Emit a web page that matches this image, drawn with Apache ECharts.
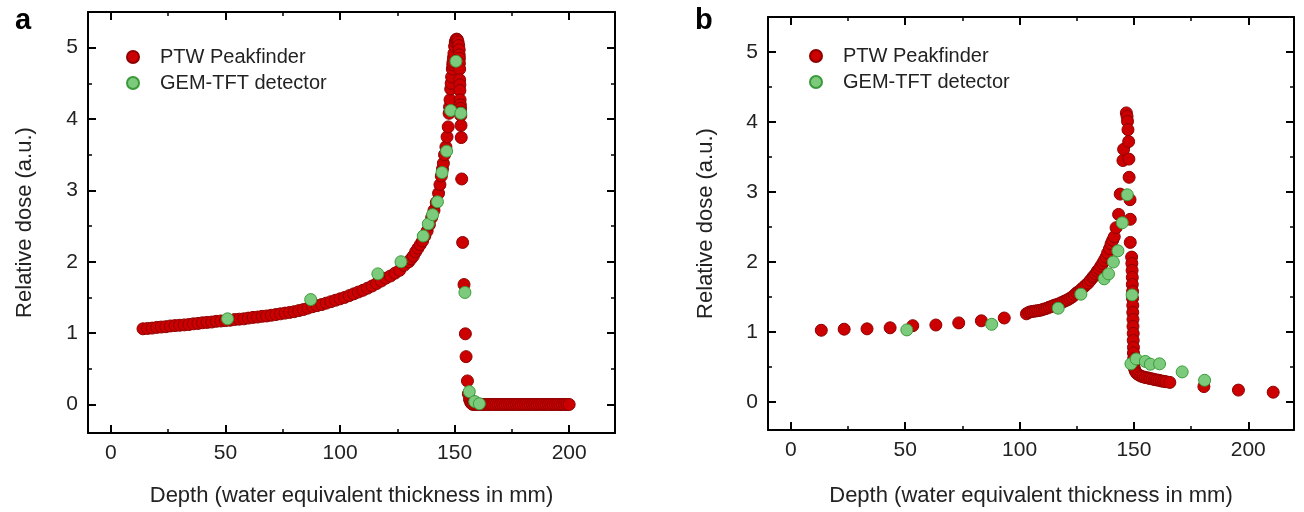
<!DOCTYPE html>
<html>
<head>
<meta charset="utf-8">
<title>Depth dose curves</title>
<script src="https://cdn.jsdelivr.net/npm/echarts@6/dist/echarts.min.js"></script>
<style>
  html, body { margin: 0; padding: 0; background: #fff; }
  #chart { width: 1304px; height: 512px; }
</style>
</head>
<body>
<div id="chart"></div>
<script>
// tick positions
const depthTicks = [0, 50, 100, 150, 200]
const depthMinor = [25, 75, 125, 175]
const doseTicks = [0, 1, 2, 3, 4, 5]
const doseMinor = [0.5, 1.5, 2.5, 3.5, 4.5]

// panel a: PTW Peakfinder [depth mm, relative dose]
const ptwA = [
  [14, 1.06], [16, 1.065], [18, 1.07], [20, 1.08], [22, 1.085], [24, 1.09], [26, 1.10], [28, 1.105],
  [30, 1.11], [32, 1.115], [34, 1.12], [36, 1.13], [38, 1.135], [40, 1.145], [42, 1.15], [44, 1.155],
  [46, 1.165], [48, 1.17], [50, 1.175], [52, 1.18], [54, 1.19], [56, 1.195], [58, 1.20], [60, 1.21],
  [62, 1.22], [64, 1.225], [66, 1.235], [68, 1.24], [70, 1.25], [72, 1.26], [74, 1.27], [76, 1.28],
  [78, 1.29], [80, 1.30], [82, 1.315], [84, 1.33], [86, 1.35], [88, 1.37], [90, 1.385], [92, 1.40],
  [94, 1.42], [96, 1.44], [98, 1.46], [100, 1.48], [102, 1.50], [104, 1.525], [106, 1.55], [108, 1.575],
  [110, 1.60], [112, 1.63], [114, 1.66], [116, 1.695], [118, 1.73], [120, 1.77], [122, 1.80], [124, 1.84],
  [126, 1.88], [128, 1.95], [130, 2.00], [131, 2.04], [132, 2.08], [133, 2.14], [134, 2.19], [135, 2.24],
  [136, 2.29], [137, 2.36], [138, 2.43], [139, 2.52], [140, 2.62], [141, 2.72], [142, 2.83], [143, 2.96],
  [143.6, 3.08], [144.2, 3.20], [144.7, 3.30], [145.1, 3.38], [145.6, 3.50], [146.2, 3.61], [146.7, 3.75],
  [147.2, 3.89], [147.6, 4.08], [147.8, 4.17], [148, 4.27], [148.3, 4.42], [148.5, 4.50], [148.7, 4.59],
  [149, 4.70], [149.2, 4.76], [149.3, 4.80], [149.5, 4.86], [149.7, 4.92], [150, 5.02], [150.3, 5.08],
  [150.6, 5.11], [150.9, 5.12], [151.2, 5.11], [151.5, 5.08], [151.8, 5.03], [152, 4.97], [152.0, 4.90],
  [152.1, 4.85], [152.1, 4.78], [152.2, 4.70], [152.2, 4.55], [152.3, 4.48], [152.3, 4.40], [152.4, 4.27],
  [152.5, 4.20], [152.6, 4.15], [152.6, 4.10], [152.7, 4.05], [152.8, 3.91], [152.9, 3.74], [153.1, 3.16],
  [153.5, 2.27], [154.1, 1.68], [154.7, 0.99], [155.0, 0.67], [155.6, 0.33], [156.0, 0.15], [156.5, 0.07],
  [157, 0.03], [157.5, 0.01],
  [158, 0], [159, 0], [160, 0], [161, 0], [162, 0], [163, 0], [164, 0], [165, 0], [166, 0], [167, 0],
  [168, 0], [169, 0], [170, 0], [171, 0], [172, 0], [173, 0], [174, 0], [175, 0], [176, 0], [177, 0],
  [178, 0], [179, 0], [180, 0], [181, 0], [182, 0], [183, 0], [184, 0], [185, 0], [186, 0], [187, 0],
  [188, 0], [189, 0], [190, 0], [191, 0], [192, 0], [193, 0], [194, 0], [195, 0], [196, 0], [197, 0],
  [198, 0], [199, 0], [200, 0]
]

// panel a: GEM-TFT detector
const gemA = [
  [50.9, 1.20], [87.2, 1.47], [116.5, 1.83], [126.6, 2.00], [136.3, 2.36], [138.5, 2.53], [140.4, 2.66],
  [142.5, 2.84], [144.5, 3.25], [146.5, 3.55], [148.3, 4.12], [150.6, 4.81], [152.7, 4.08], [154.5, 1.57],
  [156.4, 0.18], [158.8, 0.04], [160.8, 0.01]
]

// panel b: PTW Peakfinder
const ptwB = [
  [13.3, 1.025], [23.3, 1.04], [33.3, 1.045], [43.4, 1.06], [53.3, 1.09], [63.4, 1.10], [73.4, 1.13],
  [83.3, 1.16], [93.3, 1.20], [103, 1.26], [104, 1.28], [105, 1.29], [106, 1.295], [107, 1.30], [108, 1.305],
  [109, 1.31], [110, 1.32], [111, 1.33], [112, 1.34], [113, 1.355], [114, 1.365], [115, 1.38], [116, 1.39],
  [117, 1.40], [118, 1.415], [119, 1.43], [120, 1.445], [121, 1.46], [122, 1.48], [123, 1.50], [124, 1.53],
  [125, 1.56], [126, 1.58], [127, 1.61], [128, 1.64], [129, 1.67], [130, 1.70], [131, 1.74], [132, 1.78],
  [132.5, 1.80], [133.3, 1.83], [134, 1.87], [134.8, 1.90], [135.5, 1.94], [136.3, 1.98], [137, 2.02],
  [137.8, 2.07], [138.5, 2.13], [139.3, 2.19], [140, 2.26], [140.7, 2.31], [141.4, 2.36], [142.2, 2.49],
  [143.3, 2.68], [144, 2.97], [145.2, 3.45], [145.5, 3.61], [146.7, 4.13],
  [147, 4.08], [147.2, 4.01], [147.4, 3.89], [147.7, 3.72], [147.8, 3.47], [147.9, 3.21], [148.3, 2.89],
  [148.4, 2.61], [148.4, 2.28], [149, 2.07], [149.1, 1.98], [149.2, 1.88], [149.3, 1.78], [149.3, 1.68],
  [149.4, 1.58], [149.4, 1.48], [149.5, 1.38], [149.5, 1.28], [149.6, 1.18], [149.6, 1.08], [149.7, 0.98],
  [149.7, 0.88], [149.8, 0.78], [149.8, 0.70], [149.9, 0.62], [150, 0.55], [150.2, 0.48], [150.6, 0.44],
  [151.2, 0.41], [152, 0.39], [153, 0.37], [154, 0.36], [155, 0.35], [156, 0.345], [157, 0.335],
  [158, 0.33], [159, 0.32], [160, 0.315], [161, 0.31], [162, 0.30], [163, 0.295], [164, 0.29],
  [165.7, 0.28], [180.6, 0.22], [195.7, 0.17], [210.9, 0.14]
]

// panel b: GEM-TFT detector
const gemB = [
  [50.7, 1.03], [87.8, 1.11], [116.9, 1.34], [126.8, 1.54], [137, 1.76], [138.9, 1.83], [141, 2.00],
  [143, 2.16], [144.9, 2.56], [147.1, 2.96], [149.2, 1.53], [148.7, 0.545], [151, 0.615], [155, 0.58],
  [157.2, 0.54], [161.2, 0.545], [171.1, 0.43], [180.9, 0.31]
]

const textColor = '#222'
const lineColor = '#000'

function xAxes (grid, nameGap) {
  const base = { gridIndex: grid, type: 'value', min: -10, max: 220, splitLine: { show: false } }
  return [
    Object.assign({}, base, {
      position: 'bottom',
      name: 'Depth (water equivalent thickness in mm)',
      nameLocation: 'middle',
      nameGap: nameGap,
      nameTextStyle: { fontSize: 22, color: textColor },
      axisLine: { show: true, onZero: false, lineStyle: { color: lineColor, width: 2 } },
      axisTick: { inside: true, length: 8, customValues: depthTicks, lineStyle: { color: lineColor, width: 2 } },
      axisLabel: { customValues: depthTicks, fontSize: 21, color: textColor, margin: 10 }
    }),
    Object.assign({}, base, {
      position: 'bottom',
      axisLine: { show: false, onZero: false },
      axisTick: { inside: true, length: 4, customValues: depthMinor, lineStyle: { color: lineColor, width: 1.5 } },
      axisLabel: { show: false }
    }),
    Object.assign({}, base, {
      position: 'top',
      axisLine: { show: true, onZero: false, lineStyle: { color: lineColor, width: 2 } },
      axisTick: { inside: true, length: 8, customValues: depthTicks, lineStyle: { color: lineColor, width: 2 } },
      axisLabel: { show: false }
    }),
    Object.assign({}, base, {
      position: 'top',
      axisLine: { show: false, onZero: false },
      axisTick: { inside: true, length: 4, customValues: depthMinor, lineStyle: { color: lineColor, width: 1.5 } },
      axisLabel: { show: false }
    })
  ]
}

function yAxes (grid, nameGap) {
  const base = { gridIndex: grid, type: 'value', min: -0.4, max: 5.5, splitLine: { show: false } }
  return [
    Object.assign({}, base, {
      position: 'left',
      name: 'Relative dose (a.u.)',
      nameLocation: 'middle',
      nameGap: nameGap,
      nameTextStyle: { fontSize: 22, color: textColor },
      axisLine: { show: true, onZero: false, lineStyle: { color: lineColor, width: 2 } },
      axisTick: { inside: true, length: 8, customValues: doseTicks, lineStyle: { color: lineColor, width: 2 } },
      axisLabel: { customValues: doseTicks, fontSize: 21, color: textColor, margin: 10 }
    }),
    Object.assign({}, base, {
      position: 'left',
      axisLine: { show: false, onZero: false },
      axisTick: { inside: true, length: 4, customValues: doseMinor, lineStyle: { color: lineColor, width: 1.5 } },
      axisLabel: { show: false }
    }),
    Object.assign({}, base, {
      position: 'right',
      axisLine: { show: true, onZero: false, lineStyle: { color: lineColor, width: 2 } },
      axisTick: { inside: true, length: 8, customValues: doseTicks, lineStyle: { color: lineColor, width: 2 } },
      axisLabel: { show: false }
    }),
    Object.assign({}, base, {
      position: 'right',
      axisLine: { show: false, onZero: false },
      axisTick: { inside: true, length: 4, customValues: doseMinor, lineStyle: { color: lineColor, width: 1.5 } },
      axisLabel: { show: false }
    })
  ]
}

const redStyle = { color: '#CC0000', borderColor: '#8E0000', borderWidth: 1, opacity: 1 }
const greenStyle = { color: '#7CCB7C', borderColor: '#3A9A3A', borderWidth: 1, opacity: 1 }

function legendAt (left, top) {
  return {
    left: left,
    top: top,
    orient: 'vertical',
    padding: 0,
    itemGap: 6,
    itemWidth: 12,
    itemHeight: 12,
    selectedMode: false,
    textStyle: { fontSize: 20, color: textColor, padding: [0, 0, 0, 16] },
    data: ['PTW Peakfinder', 'GEM-TFT detector']
  }
}

const chart = echarts.init(document.getElementById('chart'), null, { renderer: 'canvas' })

chart.setOption({
  animation: false,
  textStyle: { fontFamily: 'Liberation Sans, Arial, sans-serif' },
  grid: [
    { left: 88, top: 12, width: 527, height: 421 },
    { left: 768, top: 17, width: 526, height: 423 }
  ],
  legend: [legendAt(126, 47), legendAt(809, 46)],
  graphic: [
    { type: 'text', left: 15, top: 6, style: { text: 'a', font: 'bold 29px Liberation Sans, Arial, sans-serif', fill: '#000' } },
    { type: 'text', left: 695, top: 6, style: { text: 'b', font: 'bold 29px Liberation Sans, Arial, sans-serif', fill: '#000' } }
  ],
  xAxis: xAxes(0, 52).concat(xAxes(1, 55)),
  yAxis: yAxes(0, 52).concat(yAxes(1, 51)),
  series: [
    { name: 'PTW Peakfinder', type: 'scatter', xAxisIndex: 0, yAxisIndex: 0, symbolSize: 12, itemStyle: redStyle, data: ptwA },
    { name: 'GEM-TFT detector', type: 'scatter', xAxisIndex: 0, yAxisIndex: 0, symbolSize: 12, itemStyle: greenStyle, data: gemA },
    { name: 'PTW Peakfinder', type: 'scatter', xAxisIndex: 4, yAxisIndex: 4, symbolSize: 12, itemStyle: redStyle, data: ptwB },
    { name: 'GEM-TFT detector', type: 'scatter', xAxisIndex: 4, yAxisIndex: 4, symbolSize: 12, itemStyle: greenStyle, data: gemB }
  ]
})
</script>
</body>
</html>
